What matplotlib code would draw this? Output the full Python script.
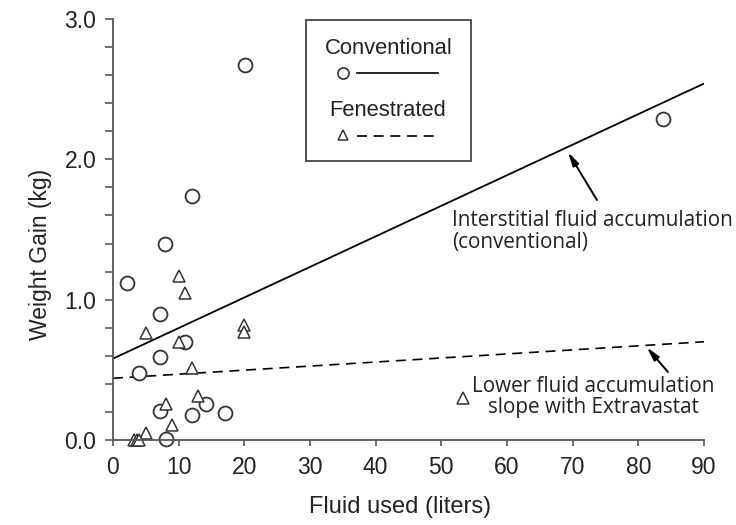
import matplotlib
matplotlib.use("Agg")
import matplotlib.pyplot as plt
from matplotlib.patches import Rectangle
from matplotlib.lines import Line2D
from matplotlib.ticker import MultipleLocator

# conventional (circles)
conv_x = [2.1, 7.9, 7.1, 11.0, 7.1, 4.0, 7.1, 14.2, 12.0, 17.1, 8.1, 12.0, 20.1, 83.8]
conv_y = [1.12, 1.40, 0.90, 0.70, 0.59, 0.48, 0.21, 0.26, 0.18, 0.19, 0.01, 1.74, 2.67, 2.29]

# fenestrated (triangles)
fen_x = [10.0, 11.0, 5.0, 19.9, 19.9, 10.1, 12.0, 8.1, 13.0, 9.0, 5.0, 3.2, 3.6, 4.0, 53.3]
fen_y = [1.17, 1.05, 0.76, 0.82, 0.77, 0.70, 0.51, 0.26, 0.31, 0.11, 0.05, 0.0, 0.0, 0.0, 0.30]

# fitted lines (end points)
fit_x = [0, 90]
conv_fit = [0.58, 2.54]
fen_fit = [0.44, 0.70]

x_ticks = list(range(0, 100, 10))
y_ticks = [0.0, 1.0, 2.0, 3.0]

ink = "#222222"
axis_col = "#555555"

fig = plt.figure(figsize=(7.36, 5.25), dpi=100)
ax = fig.add_axes([113/736, 1 - 440/525, 591/736, 421/525])

ax.plot(fit_x, conv_fit, color="black", lw=1.3, solid_capstyle="butt")
ax.plot(fit_x, fen_fit, color="black", lw=1.2, ls=(0, (6, 4)))
ax.plot(conv_x, conv_y, ls="none", marker="o", ms=10, mfc="white",
        mec="#333333", mew=1.3, clip_on=False)
ax.plot(fen_x, fen_y, ls="none", marker="^", ms=8, mfc="white",
        mec="#333333", mew=1.1, clip_on=False)

ax.set_xlim(0, 90)
ax.set_ylim(0, 3.0)
ax.set_xticks(x_ticks)
ax.set_yticks(y_ticks)
ax.set_yticklabels([f"{v:.1f}" for v in y_ticks])
ax.yaxis.set_minor_locator(MultipleLocator(0.2))

for s in ["top", "right"]:
    ax.spines[s].set_visible(False)
for s in ["left", "bottom"]:
    ax.spines[s].set_color(axis_col)
    ax.spines[s].set_linewidth(1.3)

ax.tick_params(axis="y", which="both", direction="out", length=6, width=1.2,
               color=axis_col, pad=6, labelcolor=ink)
ax.tick_params(axis="x", direction="out", length=4.5, width=1.2,
               color=axis_col, pad=7, labelcolor=ink)
for lab in ax.get_xticklabels() + ax.get_yticklabels():
    lab.set_fontfamily("Liberation Sans")
    lab.set_fontsize(16.5)

ax.set_xlabel("Fluid used (liters)", fontsize=17, family="Liberation Sans", color=ink)
ax.set_ylabel("Weight Gain (kg)", fontsize=16.5, family="Liberation Sans", color=ink)
ax.yaxis.set_label_coords(-0.103, 0.44)
ax.xaxis.set_label_coords(0.486, -0.132)

# legend box, drawn by hand
def fx(px):
    return px / 736

def fy(py):
    return 1 - py / 525

fig.patches.append(Rectangle((fx(306), fy(161)), fx(471) - fx(306), fy(20) - fy(161),
                             transform=fig.transFigure, fill=False,
                             ec="#444444", lw=1.3))
fig.text(fx(389), fy(49), "Conventional", ha="center", va="center",
         fontsize=15.8, family="Liberation Sans", color=ink)
fig.text(fx(388), fy(110), "Fenestrated", ha="center", va="center",
         fontsize=15.8, family="Liberation Sans", color=ink)
fig.lines.append(Line2D([fx(343)], [fy(73)], transform=fig.transFigure,
                        marker="o", ms=8, mfc="white", mec="#333333", mew=1.2))
fig.lines.append(Line2D([fx(357), fx(438)], [fy(73), fy(73)],
                        transform=fig.transFigure, color="black", lw=1.2))
fig.lines.append(Line2D([fx(343)], [fy(135)], transform=fig.transFigure,
                        marker="^", ms=7, mfc="white", mec="#333333", mew=1.1))
fig.lines.append(Line2D([fx(357), fx(438)], [fy(136), fy(136)],
                        transform=fig.transFigure, color="black", lw=1.2,
                        ls=(0, (6, 4))))

# annotations
arrow = dict(arrowstyle="-|>,head_length=0.8,head_width=0.2", color="black",
             lw=1.4, shrinkA=0, shrinkB=0)
ax.annotate("", xy=(69.3, 2.05), xytext=(73.7, 1.71), arrowprops=arrow)
ax.annotate("", xy=(81.3, 0.66), xytext=(84.5, 0.485), arrowprops=arrow)

ax.text(51.6, 1.485, "Interstitial fluid accumulation\n(conventional)",
        ha="left", va="center", fontsize=14.9, family="Open Sans",
        color=ink, linespacing=1.05)
ax.text(73.1, 0.305, "Lower fluid accumulation\nslope with Extravastat",
        ha="center", va="center", fontsize=14.9, family="Open Sans",
        color=ink, linespacing=1.0)

fig.savefig("out.png", dpi=100)
